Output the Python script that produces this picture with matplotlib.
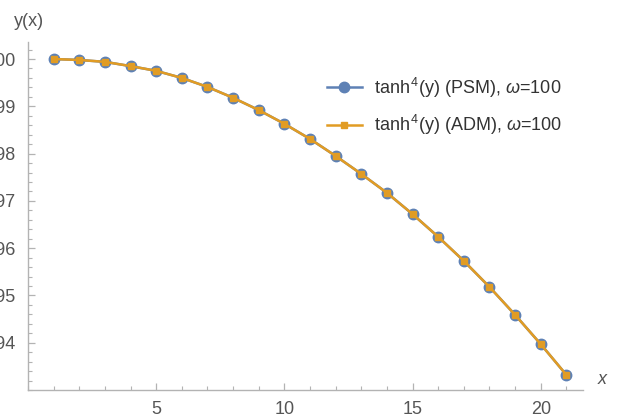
import matplotlib.pyplot as plt
from matplotlib.ticker import MultipleLocator, FixedLocator, FormatStrFormatter

plt.rcParams['font.family'] = ['Liberation Sans', 'DejaVu Sans']
plt.rcParams['mathtext.fontset'] = 'custom'
plt.rcParams['mathtext.it'] = 'Liberation Sans:italic'
plt.rcParams['mathtext.rm'] = 'Liberation Sans'

# values
x = list(range(1, 22))
y_psm = [1.00000, 0.99998, 0.99994, 0.99985, 0.99975, 0.99960, 0.99941,
         0.99918, 0.99892, 0.99863, 0.99831, 0.99795, 0.99757, 0.99717,
         0.99672, 0.99624, 0.99573, 0.99518, 0.99459, 0.99397, 0.99332]
y_adm = list(y_psm)
labels = [r'tanh$^{\,4}$(y) (PSM), $\omega$=100',
          r'tanh$^{\,4}$(y) (ADM), $\omega$=100']
xticks = [5, 10, 15, 20]
yticks = [0.994, 0.995, 0.996, 0.997, 0.998, 0.999, 1.000]

blue = '#5E81B5'
orange = '#E19C24'
grey = '#b3b3b3'
txt = '#555555'

fig = plt.figure(figsize=(6.19, 4.17), dpi=100)
ax = fig.add_axes([28 / 619, 27 / 417, 555 / 619, 348 / 417])

ax.plot(x, y_psm, '-o', color=blue, lw=1.8, ms=7.5, label=labels[0])
ax.plot(x, y_adm, '-s', color=orange, lw=1.8, ms=4.8, label=labels[1])

ax.set_xlim(0, 21.65)
ax.set_ylim(0.99300, 1.00036)

ax.xaxis.set_major_locator(FixedLocator(xticks))
ax.xaxis.set_minor_locator(MultipleLocator(1))
ax.yaxis.set_major_locator(FixedLocator(yticks))
ax.yaxis.set_minor_locator(MultipleLocator(0.0002))
ax.yaxis.set_major_formatter(FormatStrFormatter('%.3f'))

for s in ['top', 'right']:
    ax.spines[s].set_visible(False)
for s in ['left', 'bottom']:
    ax.spines[s].set_color(grey)
    ax.spines[s].set_linewidth(1.0)

ax.tick_params(which='both', direction='in', color=grey, labelcolor=txt,
               labelsize=13)
ax.tick_params(which='major', length=5, width=0.9)
ax.tick_params(which='minor', length=3, width=0.8)
ax.tick_params(axis='y', pad=9)
ax.tick_params(axis='x', pad=8)

fig.text(14 / 619, 1 - 21 / 417, 'y(x)', color=txt, fontsize=13,
         ha='left', va='center')
fig.text(598 / 619, 1 - 380 / 417, 'x', color=txt, fontsize=13,
         style='italic', ha='left', va='center')

leg = ax.legend(loc='upper left', bbox_to_anchor=(0.51, 0.95), frameon=False,
                fontsize=13, handlelength=1.9, labelspacing=0.75,
                handletextpad=0.7)
for t in leg.get_texts():
    t.set_color('#333333')

fig.savefig('out.png', dpi=100)
